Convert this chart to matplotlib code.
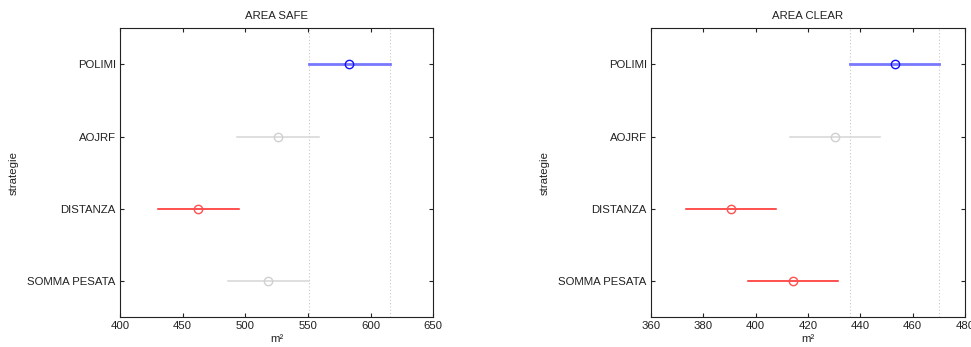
import matplotlib

matplotlib.use("Agg")
import matplotlib.pyplot as plt
import numpy as np

plt.rcParams["font.family"] = ["Liberation Sans", "DejaVu Sans"]
plt.rcParams["font.size"] = 8

groups = ["POLIMI", "AOJRF", "DISTANZA", "SOMMA PESATA"]

safe_mean = [583.0, 526.2, 462.6, 518.4]
safe_half = [32.4, 32.8, 32.4, 32.2]
safe_colors = ["blue", "gray", "red", "gray"]

clear_mean = [453.2, 430.3, 390.4, 414.3]
clear_half = [17.0, 17.1, 17.2, 17.3]
clear_colors = ["blue", "gray", "red", "red"]

LINE = {"blue": "#7878ff", "red": "#ff2020", "gray": "#d6d6d6"}
MARK = {"blue": "#1010ff", "red": "#ff5050", "gray": "#d0d0d0"}


def _panel(fig, rect, title, means, halves, colors, xlim, xticks):
    ax = fig.add_axes(rect)
    ypos = np.arange(len(means), 0, -1)
    sel = colors.index("blue")
    lo, hi = means[sel] - halves[sel], means[sel] + halves[sel]
    for x in (lo, hi):
        ax.axvline(x, color="#c8c8c8", linestyle=(0, (1, 2)), linewidth=0.8, zorder=1)
    for m, h, c, y in zip(means, halves, colors, ypos):
        lw = 2.0 if c == "blue" else 1.1
        ax.plot([m - h, m + h], [y, y], color=LINE[c], linewidth=lw, zorder=2)
        ax.plot([m], [y], marker="o", markersize=6, markerfacecolor="none",
                markeredgecolor=MARK[c], markeredgewidth=1.0, zorder=3)
    ax.set_xlim(*xlim)
    ax.set_ylim(0.5, len(means) + 0.5)
    ax.set_xticks(xticks)
    ax.set_yticks(ypos)
    ax.set_yticklabels(groups)
    ax.tick_params(direction="in", length=3, width=0.8, top=True, right=True,
                   colors="#222222", labelsize=8.2, pad=3)
    for sp in ax.spines.values():
        sp.set_linewidth(0.8)
        sp.set_color("#222222")
    ax.set_title(title, fontsize=8.2, color="#222222", pad=7)
    ax.set_xlabel("m²", fontsize=8.2, color="#222222", labelpad=1.5)
    ax.set_ylabel("strategie", fontsize=8.2, color="#222222", labelpad=6)
    return ax


fig = plt.figure(figsize=(9.71, 3.47), dpi=100)
_panel(fig, [0.1236, 0.0856, 0.3227, 0.8329], "AREA SAFE", safe_mean, safe_half,
       safe_colors, (400, 650), [400, 450, 500, 550, 600, 650])
_panel(fig, [0.6704, 0.0856, 0.3234, 0.8329], "AREA CLEAR", clear_mean, clear_half,
       clear_colors, (360, 480), [360, 380, 400, 420, 440, 460, 480])
fig.savefig("out.png", dpi=100)
